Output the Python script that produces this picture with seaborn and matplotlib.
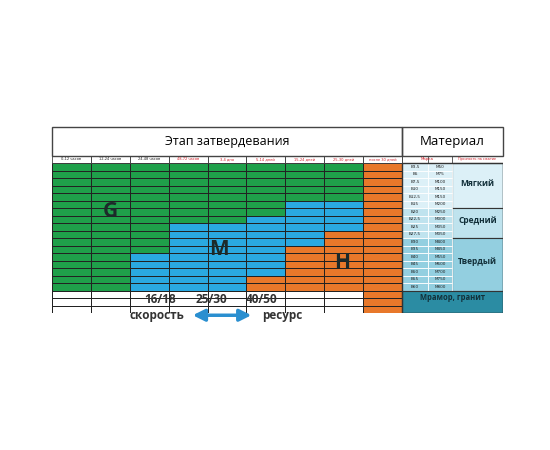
import numpy as np
import pandas as pd
import matplotlib
matplotlib.use("Agg")
import matplotlib.pyplot as plt
from matplotlib.colors import ListedColormap
from matplotlib.patches import Rectangle
import seaborn as sns

stages = ["0-12 часов", "12-24 часов", "24-48 часов", "48-72 часов", "3-4 дня",
          "5-14 дней", "15-24 дней", "25-30 дней", "после 30 дней"]
stage_red = [False, False, False, True, True, True, True, True, True]
# rows of each colour per stage column: (green, blue, orange)
green_rows = [17, 17, 12, 8, 8, 7, 5, 5, 0]
blue_rows = [0, 0, 5, 9, 9, 8, 6, 4, 0]
orange_rows = [0, 0, 0, 0, 0, 2, 6, 8, 20]
marks_b = ["B3,5", "B5", "B7,5", "B10", "B12,5", "B15", "B20", "B22,5", "B25", "B27,5",
           "B30", "B35", "B40", "B45", "B50", "B55", "B60"]
marks_m = ["M50", "M75", "M100", "M150", "M150", "M200", "M250", "M300", "M350", "M350",
           "M400", "M450", "M550", "M600", "M700", "M750", "M800"]
groups = ["Мягкий", "Средний", "Твердый", "Мрамор, гранит"]
group_rows = [6, 4, 7, 3]
group_colors = ["#dcf0f7", "#bfe3ee", "#93cfe0", "#2b8ca3"]
letters = ["G", "M", "H"]
letter_pos = [(1.5, 6.5), (4.3, 11.5), (7.45, 13.3)]

nrows = 20
mat = np.full((nrows, len(stages)), np.nan)
for j in range(len(stages)):
    r = 0
    for code, n in enumerate([green_rows[j], blue_rows[j], orange_rows[j]]):
        mat[r:r + n, j] = code
        r += n
df = pd.DataFrame(mat, columns=stages)

fig = plt.figure(figsize=(5.5, 4.5), dpi=100)
ax = fig.add_axes([52 / 550, 1 - 313 / 450, 451 / 550, 186 / 450])
cmap = ListedColormap(["#1fa04a", "#2aa9e1", "#e8782a"])
sns.heatmap(df, ax=ax, cmap=cmap, vmin=-0.5, vmax=2.5, cbar=False,
            linewidths=0.6, linecolor="#222222", xticklabels=False, yticklabels=False)

W = 9 + 2.6
ax.set_xlim(0, W)
ax.set_ylim(nrows, -4.8)
ax.axis("off")

# header boxes
ax.add_patch(Rectangle((0, -4.8), 9, 3.8, fill=False, ec="#444", lw=1, clip_on=False))
ax.add_patch(Rectangle((9, -4.8), 2.6, 3.8, fill=False, ec="#444", lw=1, clip_on=False))
ax.text(4.5, -2.9, "Этап затвердевания", ha="center", va="center", fontsize=9, family="Open Sans")
ax.text(10.3, -2.9, "Материал", ha="center", va="center", fontsize=9.5, family="Open Sans")
for j, (s, red) in enumerate(zip(stages, stage_red)):
    ax.add_patch(Rectangle((j, -1), 1, 1, fill=False, ec="#444", lw=0.6, clip_on=False))
    ax.text(j + 0.5, -0.5, s, ha="center", va="center", fontsize=2.6,
            color="#d0202a" if red else "#222")
c1, c2 = 9.67, 10.29
for x0, w, s in [(9, c1 - 9, "Марка"), (c1, W - c1, "Прочность на сжатие")]:
    ax.add_patch(Rectangle((x0, -1), w if s != "Марка" else c2 - 9, 1, fill=False, ec="#444", lw=0.6))
ax.text((9 + c2) / 2, -0.5, "Марка", ha="center", va="center", fontsize=2.8, color="#d0202a")
ax.text((c2 + W) / 2, -0.5, "Прочность на сжатие", ha="center", va="center", fontsize=2.4, color="#d0202a")

# material table
r = 0
for g, n, col in zip(groups, group_rows, group_colors):
    if g.startswith("Мрамор"):
        ax.add_patch(Rectangle((9, r), W - 9, n, fc=col, ec="#333", lw=0.8))
        ax.text((9 + W) / 2, r + 0.9, g, ha="center", va="center", fontsize=5.5,
                weight="bold", color="#12303a", family="Open Sans")
    else:
        ax.add_patch(Rectangle((c2, r), W - c2, n, fc=col, ec="#333", lw=0.8))
        ax.text((c2 + W) / 2, r + n / 2 - 0.3, g, ha="center", va="center", fontsize=6,
                weight="bold", color="#12303a", family="Open Sans")
        for i in range(r, r + n):
            for x0, x1, lab in [(9, c1, marks_b[i]), (c1, c2, marks_m[i])]:
                ax.add_patch(Rectangle((x0, i), x1 - x0, 1, fc=col, ec="white", lw=0.6))
                ax.text((x0 + x1) / 2, i + 0.5, lab, ha="center", va="center",
                        fontsize=3, color="#222")
    r += n
ax.add_patch(Rectangle((9, 0), W - 9, nrows, fill=False, ec="#333", lw=1))

for L, (x, y) in zip(letters, letter_pos):
    ax.text(x, y, L, ha="center", va="center", fontsize=15, weight="bold",
            color="#1c2a2a", family="Open Sans")

# bottom legend
for lab, x in zip(["16/18", "25/30", "40/50"], [2.77, 4.1, 5.4]):
    ax.text(x, 18.2, lab, ha="center", va="center", fontsize=8.5, weight="bold",
            color="#333", family="Open Sans", clip_on=False)
ax.text(3.4, 20.3, "скорость", ha="right", va="center", fontsize=8.5, weight="bold",
        color="#333", family="Open Sans", clip_on=False)
ax.text(5.4, 20.3, "ресурс", ha="left", va="center", fontsize=8.5, weight="bold",
        color="#333", family="Open Sans", clip_on=False)
ax.annotate("", xy=(5.2, 20.3), xytext=(3.55, 20.3),
            arrowprops=dict(arrowstyle="<|-|>,head_width=0.35,head_length=0.7",
                            color="#2a8fd0", lw=2.5), annotation_clip=False)

fig.savefig("out.png", dpi=100)
